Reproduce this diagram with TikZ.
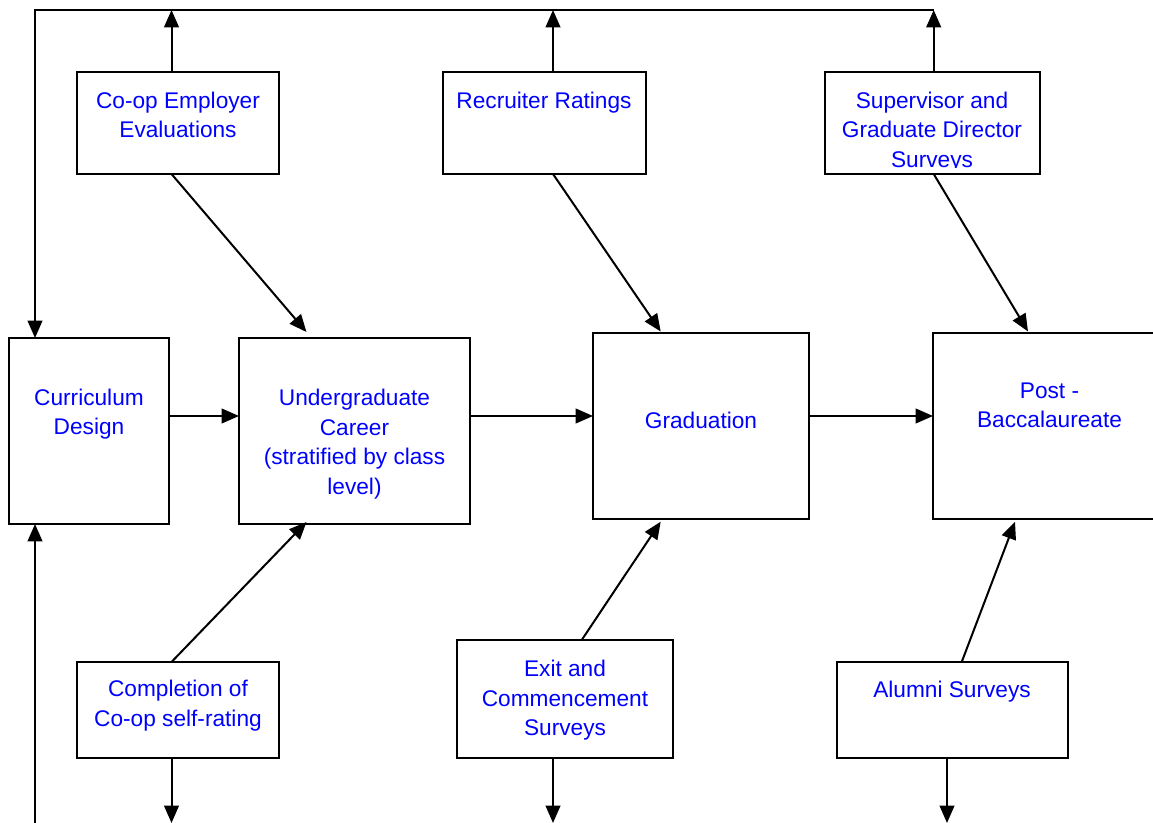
\documentclass[tikz,border=0pt]{standalone}
\usepackage{fontspec}
\setmainfont{Liberation Sans}
\usetikzlibrary{arrows.meta,fit}
\definecolor{lbl}{RGB}{0,0,255}
\newcommand\fl{\rule{0pt}{15pt}}
\begin{document}
\begin{tikzpicture}[x=0.75pt,y=-0.75pt,
  box/.style={draw=black,line width=1.5pt,inner sep=0pt,outer sep=0pt,rectangle},
  lab/.style={text=lbl,font=\fontsize{17}{22.3}\selectfont,align=center,inner sep=0pt,anchor=north},
  arr/.style={line width=1.5pt,-{Triangle[length=13pt,width=11pt]}},
  ln/.style={line width=1.5pt}]
\clip (0,0) rectangle (1153,823);
% boxes
\node[box,fit={(77,72) (279,174)}] (coop) {};
\node[box,fit={(443,72) (645.5,174)}] (rec) {};
\node[box,fit={(825,72) (1039.5,174)}] (sup) {};
\node[box,fit={(8.7,338) (169.3,524)}] (cur) {};
\node[box,fit={(239,338) (470,524)}] (ug) {};
\node[box,fit={(593,332.7) (809.3,518.7)}] (grad) {};
\node[box,fit={(933,332.7) (1166,518.7)}] (post) {};
\node[box,fit={(77,662) (279,758)}] (comp) {};
\node[box,fit={(457,640) (673.3,758)}] (exit) {};
\node[box,fit={(837,662) (1067.7,758)}] (alum) {};
% labels
\node[lab] (coopT) at (178,88) {\fl Co-op Employer\\Evaluations};
\node[lab] (recT) at (544,88) {\fl Recruiter Ratings};
\begin{scope}
\clip (825,72) rectangle (1039.5,167.5);
\node[lab] (supT) at (932,88) {\fl Supervisor and\\Graduate Director\\Surveys};
\end{scope}
\node[lab] (curT) at (89,385) {\fl Curriculum\\Design};
\node[lab] (ugT) at (354.5,385) {\fl Undergraduate\\Career\\(stratified by class\\level)};
\node[lab] (gradT) at (701,408) {\fl Graduation};
\node[lab] (postT) at (1049.5,378) {\fl Post -\\Baccalaureate};
\node[lab] (compT) at (178,676) {\fl Completion of\\Co-op self-rating};
\node[lab] (exitT) at (565,656) {\fl Exit and\\Commencement\\Surveys};
\node[lab] (alumT) at (952,677) {\fl Alumni Surveys};
% helper coordinates
\coordinate (tl) at (35,10);
\coordinate (tr) at (933.7,10);
\coordinate (u1) at (171.5,10);
\coordinate (u2) at (553,10);
\coordinate (u3) at (933.7,10);
\coordinate (bl) at (35,823);
\coordinate (d1) at (171.5,823);
\coordinate (d2) at (553,823);
\coordinate (d3) at (947,823);
\coordinate (hy) at (0,416);
\coordinate (ta) at (306.5,332);
\coordinate (tb) at (306.5,522);
\coordinate (tc) at (660.7,331.5);
\coordinate (td) at (660.7,521.7);
\coordinate (te) at (1028,331.5);
\coordinate (tf) at (1015,521.7);
\coordinate (sx) at (581.7,0);
\coordinate (sy) at (961.7,0);
% feedback loop
\draw[arr] (tr) -- (tl) -- (tl |- cur.north);
\draw[arr] (bl) -- (bl |- cur.south);
% up arrows
\draw[arr] (u1 |- coop.north) -- (u1);
\draw[arr] (u2 |- rec.north) -- (u2);
\draw[arr] (u3 |- sup.north) -- (u3);
% down arrows
\draw[arr] (d1 |- comp.south) -- (d1);
\draw[arr] (d2 |- exit.south) -- (d2);
\draw[arr] (d3 |- alum.south) -- (d3);
% main flow
\draw[arr] (cur.east |- hy) -- (ug.west |- hy);
\draw[arr] (ug.east |- hy) -- (grad.west |- hy);
\draw[arr] (grad.east |- hy) -- (post.west |- hy);
% diagonals
\draw[arr] (u1 |- coop.south) -- (ta);
\draw[arr] (u2 |- rec.south) -- (tc);
\draw[arr] (u3 |- sup.south) -- (te);
\draw[arr] (u1 |- comp.north) -- (tb);
\draw[arr] (sx |- exit.north) -- (td);
\draw[arr] (sy |- alum.north) -- (tf);
\end{tikzpicture}
\end{document}
